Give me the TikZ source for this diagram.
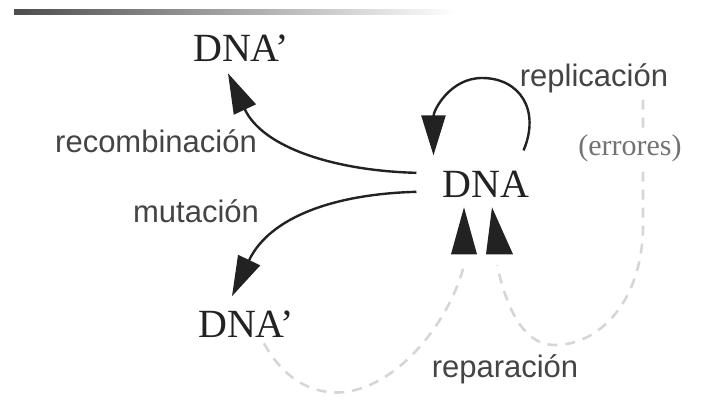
\documentclass[tikz,border=0pt]{standalone}
\usepackage{fontspec}
\setmainfont{Liberation Serif}
\newfontfamily\labfont{Liberation Sans}
\usetikzlibrary{arrows.meta}
\definecolor{ink}{HTML}{222222}
\definecolor{lab}{HTML}{444444}
\definecolor{dashc}{HTML}{D6D6D6}
\tikzset{
  dnatext/.style={font=\fontsize{40}{40}\selectfont, text=ink, inner sep=0pt, anchor=base},
  labtext/.style={font=\labfont\fontsize{31}{31}\selectfont, text=lab, inner sep=0pt, anchor=base},
  errtext/.style={font=\fontsize{30}{30}\selectfont, text=black!55, inner sep=2pt, anchor=base, fill=white},
  arr/.style={draw=ink, line width=2.4pt, -{Triangle[length=40pt,width=24pt]}},
  rep/.style={draw=dashc, line width=2.6pt, dash pattern=on 10pt off 8pt},
  headtip/.style={fill=ink}
}
\begin{document}
\begin{tikzpicture}[x=1pt,y=-1pt]
\useasboundingbox (0,0) rectangle (715,401);
\shade[left color=black!70, right color=white] (14,10) rectangle (456,15);
% texts
\node[dnatext] (top) at (241,62) {DNA’};
\node[dnatext] (bot) at (246,337) {DNA’};
\node[dnatext] (dna) at (486,197) {DNA};
\node[labtext] (rec) at (156,153) {recombinación};
\node[labtext] (mut) at (196,222) {mutación};
\node[labtext] (repl) at (594,87) {replicación};
\node[labtext] (repa) at (505,377) {reparación};
% dashed repair paths (behind the (errores) label)
\coordinate (tipL) at ([shift={(-22,10)}]dna.south);
\coordinate (tipR) at ([shift={(6,10)}]dna.south);
\draw[rep] ([shift={(-30,6)}]bot.south east)
  .. controls +(23,42) and +(-25,3) .. (345,392)
  .. controls +(55,-7) and +(-14,55) .. ([shift={(0,58)}]tipL);
\draw[rep] ([shift={(49,6)}]repl.south) -- (643,225)
  .. controls +(0,75) and +(45,0) .. (555,345)
  .. controls +(-35,0) and +(8,35) .. ([shift={(5,58)}]tipR);
\node[errtext] (err) at (630,156) {(errores)};
% repair arrowheads
\fill[headtip] ([shift={(-13,47)}]tipL) -- (tipL) -- ([shift={(13,47)}]tipL) -- cycle;
\fill[headtip] ([shift={(-6,47)}]tipR) -- (tipR) -- ([shift={(21,47)}]tipR) -- cycle;
% main arrows
\draw[arr] ([shift={(-26,-11)}]dna.west)
  .. controls +(-80,-2) and +(35,75) .. ([shift={(-13,11)}]top.south);
\draw[arr] ([shift={(-26,8)}]dna.west)
  .. controls +(-80,2) and +(38,-80) .. ([shift={(-14,-14)}]bot.north);
\draw[arr] ([shift={(-6,-20)}]dna.north east)
  .. controls +(17,-40) and +(38,0) .. (482,78)
  .. controls +(-32,0) and +(0,-45) .. ([shift={(-9,-15)}]dna.north west);
\end{tikzpicture}
\end{document}
